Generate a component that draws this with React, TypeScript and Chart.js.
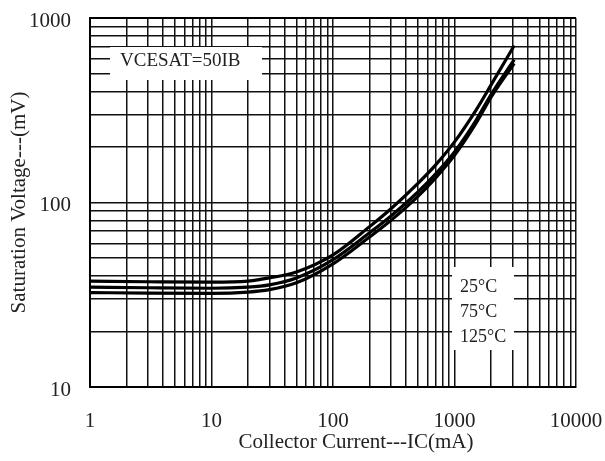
import React, { useEffect, useRef } from 'react';
import { Chart, registerables } from 'chart.js';

Chart.register(...registerables);

// ---- data ----
const currentMA = [1, 3, 10, 20, 30, 50, 100, 200, 300, 500, 700, 1000, 1500, 2000, 3100];
const vce25 = [37.5, 37.2, 37, 37.5, 39, 42, 52, 74, 92.5, 127, 160, 213, 316, 434, 709];
const vce75 = [34.8, 34.5, 34.3, 34.8, 35.8, 39, 49, 68.5, 84.5, 114, 143, 188, 278, 385, 595];
const vce125 = [32.5, 32.3, 32.2, 32.7, 33.7, 36.7, 46.5, 65, 80, 108, 136, 180, 268, 372, 568];

const xTickLabels = [1, 10, 100, 1000, 10000];
const yTickLabels = [10, 100, 1000];
const legendLabels = ['25°C', '75°C', '125°C'];
const noteText = 'VCESAT=50IB';
const xTitle = 'Collector Current---IC(mA)';
const yTitle = 'Saturation Voltage---(mV)';

const FONT = '"Liberation Serif", "Times New Roman", serif';

function logGrid(min: number, max: number): number[] {
  const out: number[] = [];
  for (let e = Math.floor(Math.log10(min)); Math.pow(10, e) <= max; e++) {
    const base = Math.pow(10, e);
    for (let m = 1; m <= 9; m++) {
      const v = Math.round(m * base * 1000) / 1000;
      if (v >= min - 1e-9 && v <= max + 1e-9) out.push(v);
    }
  }
  return out;
}

const annotPlugin = {
  id: 'annot',
  beforeDatasetsDraw(chart: any) {
    const { ctx, chartArea: ca } = chart;
    ctx.save();
    // thicker top border
    ctx.strokeStyle = '#000';
    ctx.lineWidth = 2;
    ctx.beginPath();
    ctx.moveTo(ca.left, ca.top);
    ctx.lineTo(ca.right, ca.top);
    ctx.stroke();
    // white boxes
    ctx.fillStyle = '#fff';
    ctx.fillRect(ca.left + 20, ca.top + 29, 152, 33);
    ctx.fillRect(ca.left + 362, ca.top + 249, 62, 83);
    ctx.fillStyle = '#222';
    ctx.textBaseline = 'middle';
    ctx.textAlign = 'left';
    ctx.font = `19px ${FONT}`;
    ctx.fillText(noteText, ca.left + 30, ca.top + 43);
    ctx.font = `18px ${FONT}`;
    legendLabels.forEach((t, i) => ctx.fillText(t, ca.left + 370, ca.top + 269 + i * 25));
    ctx.restore();
  },
  afterDraw(chart: any) {
    const { ctx, chartArea: ca } = chart;
    ctx.save();
    ctx.fillStyle = '#222';
    ctx.font = `21px ${FONT}`;
    ctx.textAlign = 'center';
    ctx.textBaseline = 'middle';
    ctx.fillText(xTitle, ca.left + 266, ca.bottom + 55);
    ctx.restore();
  },
};

function makeSeries(ys: number[]) {
  return currentMA.map((x, i) => ({ x, y: ys[i] }));
}

export default function App() {
  const ref = useRef<HTMLCanvasElement>(null);
  useEffect(() => {
    if (!ref.current) return;
    const lineStyle = {
      showLine: true,
      borderColor: '#000',
      backgroundColor: '#000',
      borderWidth: 3.2,
      pointRadius: 0,
      cubicInterpolationMode: 'monotone' as const,
    };
    const chart = new Chart(ref.current, {
      type: 'scatter',
      data: {
        datasets: [
          { label: legendLabels[0], data: makeSeries(vce25), ...lineStyle },
          { label: legendLabels[1], data: makeSeries(vce75), ...lineStyle },
          { label: legendLabels[2], data: makeSeries(vce125), ...lineStyle },
        ],
      },
      options: {
        responsive: false,
        animation: false,
        layout: { padding: { left: 0, top: 18, right: 29, bottom: 0 } },
        plugins: { legend: { display: false }, tooltip: { enabled: false } },
        scales: {
          x: {
            type: 'logarithmic',
            min: 1,
            max: 10000,
            afterBuildTicks: (s: any) => {
              s.ticks = logGrid(1, 10000).map((v) => ({ value: v }));
            },
            afterFit: (s: any) => {
              s.height = 74;
            },
            grid: { color: '#111', lineWidth: 1.5, drawTicks: true, tickLength: 22, tickColor: 'rgba(0,0,0,0)' },
            border: { color: '#000', width: 2 },
            ticks: {
              autoSkip: false,
              maxRotation: 0,
              padding: 0,
              color: '#222',
              font: { family: FONT, size: 21 },
              callback: (v: any) => (xTickLabels.includes(Number(v)) ? String(v) : ''),
            },
            title: { display: false },
          },
          y: {
            type: 'logarithmic',
            min: 10,
            max: 1000,
            afterBuildTicks: (s: any) => {
              s.ticks = logGrid(10, 1000).map((v) => ({ value: v }));
            },
            afterFit: (s: any) => {
              s.width = 90;
            },
            grid: { color: '#111', lineWidth: 1.5, drawTicks: true, tickLength: 19, tickColor: 'rgba(0,0,0,0)' },
            border: { color: '#000', width: 2 },
            ticks: {
              autoSkip: false,
              padding: 0,
              labelOffset: 3,
              color: '#222',
              font: { family: FONT, size: 21 },
              callback: (v: any) => (yTickLabels.includes(Number(v)) ? String(v) : ''),
            },
            title: {
              display: true,
              text: yTitle,
              color: '#222',
              font: { family: FONT, size: 21 },
              padding: { top: 7, bottom: 0 },
            },
          },
        },
      },
      plugins: [annotPlugin],
    } as any);
    return () => chart.destroy();
  }, []);

  return (
    <div style={{ position: 'fixed', left: 0, top: 0, width: 605, height: 461, background: '#fff' }}>
      <canvas ref={ref} width={605} height={461} style={{ display: 'block' }} />
    </div>
  );
}
